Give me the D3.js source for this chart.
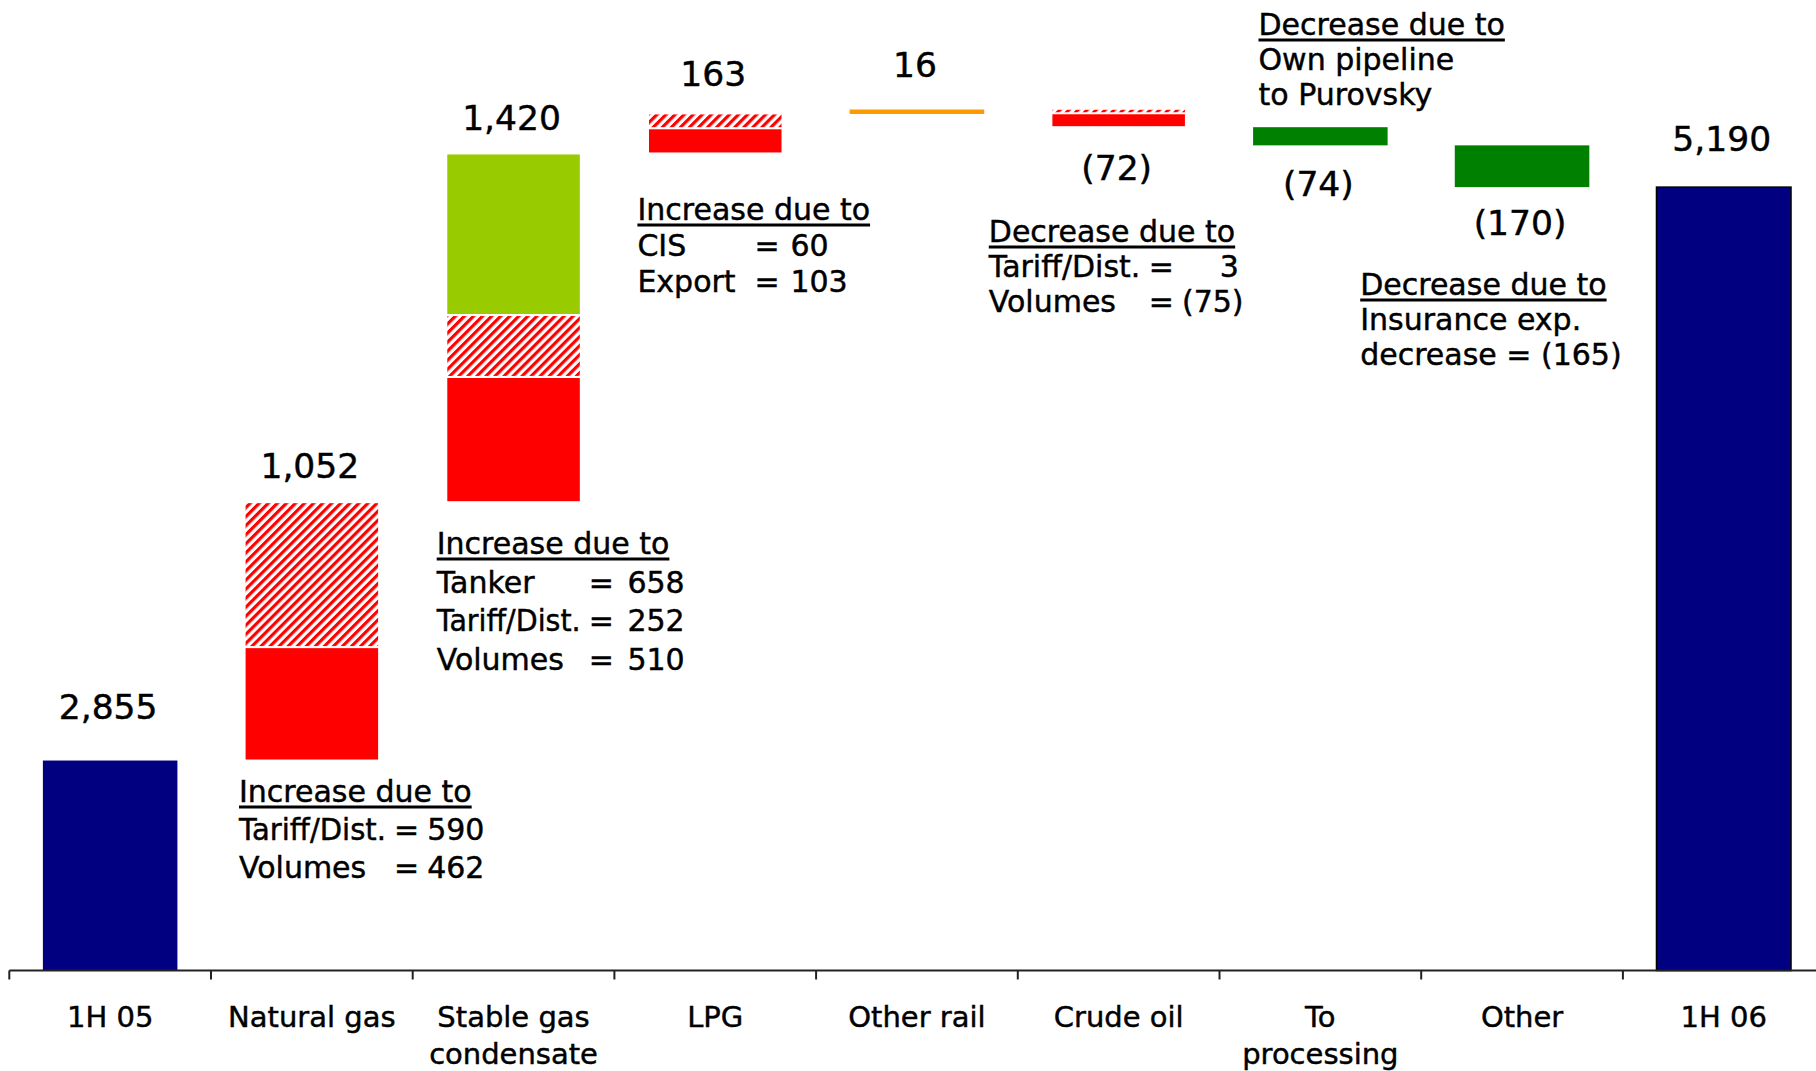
<!DOCTYPE html>
<html>
<head>
<meta charset="utf-8">
<script src="https://cdn.jsdelivr.net/npm/d3@7"></script>
<style>
  body { margin: 0; background: #fff; }
  svg { display: block; font-family: "DejaVu Sans", Verdana, sans-serif; }
  text { stroke: #000; stroke-width: 0.45px; fill: #000; }
</style>
</head>
<body>
<svg id="chart" width="1816" height="1071"></svg>
<script>
// categories on the axis
const categories = ["1H 05", "Natural gas", "Stable gas condensate", "LPG", "Other rail", "Crude oil", "To processing", "Other", "1H 06"];
const categoryLines = [["1H 05"], ["Natural gas"], ["Stable gas", "condensate"], ["LPG"], ["Other rail"], ["Crude oil"], ["To", "processing"], ["Other"], ["1H 06"]];

// opening / closing totals
const startTotal = 2855;
const endTotal = 5190;

// bridge pieces, stacked in this order
const segCategory = ["Natural gas", "Natural gas", "Stable gas condensate", "Stable gas condensate", "Stable gas condensate", "LPG", "LPG", "Other rail", "Crude oil", "Crude oil", "To processing", "Other"];
const segDriver = ["Volumes", "Tariff/Dist.", "Volumes", "Tariff/Dist.", "Tanker", "Export", "CIS", "Other rail", "Tariff/Dist.", "Volumes", "Own pipeline", "Insurance"];
const segValue = [462, 590, 510, 252, 658, 103, 60, 16, 3, -75, -74, -170];

// comment boxes
const noteCategory = ["Natural gas", "Stable gas condensate", "LPG", "Crude oil", "To processing", "Other"];
const noteTitle = ["Increase due to", "Increase due to", "Increase due to", "Decrease due to", "Decrease due to", "Decrease due to"];
const noteLines = [
  ["Tariff/Dist. = 590", "Volumes = 462"],
  ["Tanker = 658", "Tariff/Dist. = 252", "Volumes = 510"],
  ["CIS = 60", "Export = 103"],
  ["Tariff/Dist. = 3", "Volumes = (75)"],
  ["Own pipeline", "to Purovsky"],
  ["Insurance exp.", "decrease = (165)"]
];

// ---- layout / style ----
const width = 1816, height = 1071;
const driverFill = {
  "Volumes": "#FF0000", "Export": "#FF0000", "Tariff/Dist.": "url(#hatch)", "CIS": "url(#hatch)",
  "Tanker": "#99CC00", "Other rail": "#FF9900", "Own pipeline": "#008000", "Insurance": "#008000"
};
const labelDy = [-42, -24, -23, -27, -33, 53, 51, 48, -36];
const noteDx = [28, 24, 23, -29, 39, -61];   // from left edge of the category cell
const noteY = [802, 554, 220, 242, 35, 295];
const noteGap = [38, 38.5, 36, 35, 35, 35];
const noteEq = [155, 152, 117, 160, null, null];      // where "=" starts
const noteVal = [238, 248, 153, 250, null, null];     // value end (or start when left aligned)
const noteValAnchor = ["end", "end", "start", "end", null, null];

const svg = d3.select("#chart");

const defs = svg.append("defs");
const hatch = defs.append("pattern")
  .attr("id", "hatch")
  .attr("patternUnits", "userSpaceOnUse")
  .attr("width", 6.4).attr("height", 6.4)
  .attr("patternTransform", "rotate(45)");
hatch.append("rect").attr("width", 6.4).attr("height", 6.4).attr("fill", "#fff");
hatch.append("rect").attr("width", 3.2).attr("height", 6.4).attr("fill", "#FF0000");

const x = d3.scaleBand()
  .domain(categories)
  .range([9.3, 9.3 + 201.7 * categories.length])
  .paddingInner(0.333)
  .paddingOuter(0.1665);

const y = d3.scaleLinear()
  .domain([2000, 5506])
  .range([970.5, 109.5]);

// stack the pieces
let running = startTotal;
const segs = segValue.map((v, i) => {
  const s = { cat: segCategory[i], driver: segDriver[i], from: running, to: running + v };
  running += v;
  return s;
});
const pieceCount = c => segs.filter(s => s.cat === c).length;

const catInfo = categories.map((c, i) => {
  if (i === 0) return { lo: 2000, hi: startTotal, val: startTotal };
  if (i === categories.length - 1) return { lo: 2000, hi: endTotal, val: endTotal };
  const ss = segs.filter(s => s.cat === c);
  const vals = ss.flatMap(s => [s.from, s.to]);
  const net = ss.reduce((a, s) => a + (s.to - s.from), 0);
  return { lo: d3.min(vals), hi: d3.max(vals), val: net };
});

// totals
svg.append("g").selectAll("rect")
  .data([0, categories.length - 1])
  .enter().append("rect")
  .attr("x", i => x(categories[i]))
  .attr("width", x.bandwidth())
  .attr("y", i => y(catInfo[i].val))
  .attr("height", i => y(2000) - y(catInfo[i].val))
  .attr("fill", "#000080")
  .attr("stroke", i => i === 0 ? "none" : "#000")
  .attr("stroke-width", 1.5);

// bridge pieces (hatched drawn last so thin ones stay visible)
const isHatch = d => driverFill[d.driver].startsWith("url");
const order = segs.slice().sort((a, b) => isHatch(a) - isHatch(b));
svg.append("g").selectAll("rect")
  .data(order)
  .enter().append("rect")
  .attr("x", d => x(d.cat))
  .attr("width", x.bandwidth())
  .attr("y", d => y(Math.max(d.from, d.to)))
  .attr("height", d => Math.max(4.5, Math.abs(y(d.from) - y(d.to))))
  .attr("fill", d => driverFill[d.driver])
  .attr("stroke", d => pieceCount(d.cat) > 1 ? "#fff" : "none")
  .attr("stroke-width", 2);

// axis
const axis = svg.append("g").attr("stroke", "#222").attr("stroke-width", 2);
axis.append("line")
  .attr("x1", x.range()[0]).attr("x2", width)
  .attr("y1", y(2000)).attr("y2", y(2000));
axis.selectAll(".tick")
  .data(d3.range(categories.length))
  .enter().append("line")
  .attr("x1", i => x.range()[0] + i * x.step())
  .attr("x2", i => x.range()[0] + i * x.step())
  .attr("y1", y(2000)).attr("y2", y(2000) + 9);

svg.append("g").selectAll("text")
  .data(categories)
  .enter().append("text")
  .attr("text-anchor", "middle")
  .attr("font-size", 29)
  .each(function(c, i) {
    const t = d3.select(this);
    categoryLines[i].forEach((ln, k) => {
      t.append("tspan")
        .attr("x", x(c) + x.bandwidth() / 2)
        .attr("y", 1027 + k * 37)
        .text(ln);
    });
  });

// value labels
const fmt = v => v < 0 ? "(" + d3.format(",")(-v) + ")" : d3.format(",")(v);
svg.append("g").selectAll("text")
  .data(categories)
  .enter().append("text")
  .attr("text-anchor", "middle")
  .attr("font-size", 34.5)
  .attr("x", c => x(c) + x.bandwidth() / 2 - 2)
  .attr("y", (c, i) => catInfo[i].val < 0 ? y(catInfo[i].lo) + labelDy[i] : y(catInfo[i].hi) + labelDy[i])
  .text((c, i) => fmt(catInfo[i].val));

// notes
noteCategory.forEach((c, i) => {
  const g = svg.append("g").attr("font-size", 30);
  const x0 = x(c) - x.step() * x.paddingInner() / 2 + noteDx[i];
  const head = g.append("text").attr("x", x0).attr("y", noteY[i]).text(noteTitle[i]);
  const w = head.node().getComputedTextLength();
  g.append("line")
    .attr("x1", x0).attr("x2", x0 + w)
    .attr("y1", noteY[i] + 5).attr("y2", noteY[i] + 5)
    .attr("stroke", "#000").attr("stroke-width", 2.8);
  noteLines[i].forEach((ln, k) => {
    const ly = noteY[i] + (k + 1) * noteGap[i];
    if (noteEq[i] == null) {
      g.append("text").attr("x", x0).attr("y", ly).text(ln);
      return;
    }
    const [lab, val] = ln.split("=").map(s => s.trim());
    const lt = g.append("text").attr("x", x0).attr("y", ly).text(lab);
    const room = noteEq[i] - 8;
    if (lt.node().getComputedTextLength() > room) {
      lt.attr("textLength", room).attr("lengthAdjust", "spacingAndGlyphs");
    }
    const eqX = x0 + noteEq[i];
    const eq = g.append("text").attr("x", eqX).attr("y", ly).text("=");
    const eqEnd = eqX + eq.node().getComputedTextLength();
    const vt = g.append("text").attr("y", ly).attr("text-anchor", noteValAnchor[i]).text(val);
    const vw = vt.node().getComputedTextLength();
    let vx = x0 + noteVal[i];
    if (noteValAnchor[i] === "end") vx = Math.max(vx, eqEnd + 8 + vw);
    else vx = Math.max(vx, eqEnd + 8);
    vt.attr("x", vx);
  });
});
</script>
</body>
</html>
